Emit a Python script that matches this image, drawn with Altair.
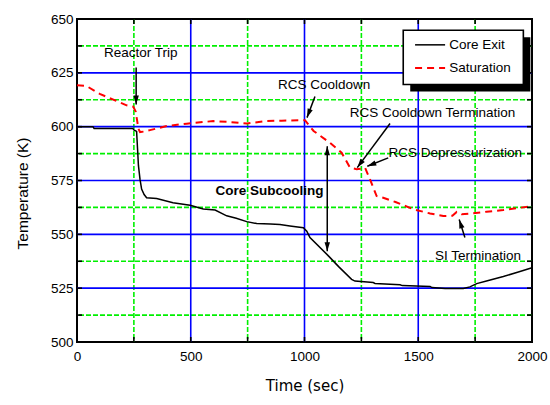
import math
import altair as alt
import pandas as pd

# ---------------- data ----------------
core_t = [0, 70, 75, 245, 250, 262, 266, 270, 277, 284, 295, 306, 350, 422, 497, 555, 607,
          658, 700, 746, 790, 850, 892, 936, 995, 1010, 1024, 1105, 1150, 1207, 1222, 1302,
          1310, 1420, 1430, 1552, 1560, 1618, 1698, 1727, 1757, 1800, 1874, 1940, 2000]
core_T = [600, 600, 599.2, 599.2, 598.5, 597.8, 590, 582, 575.5, 571, 568.5, 567, 566.6, 564.7,
          563.5, 561.8, 561.3, 558.6, 557.5, 555.9, 555, 554.8, 554.6, 553.9, 553.1, 551.5,
          548.5, 540, 535, 529.1, 528.3, 527.6, 527.2, 526.6, 526.2, 525.8, 525.3, 524.8, 524.8,
          525.6, 527.1, 528.3, 530.4, 532.5, 534.5]

sat_t = [0, 40, 100, 174, 218, 247, 258, 264, 270, 277, 300, 321, 394, 482, 599, 680, 746, 834,
         900, 1002, 1040, 1112, 1163, 1200, 1229, 1255, 1266, 1288, 1317, 1346, 1400, 1435, 1479,
         1552, 1610, 1650, 1669, 1691, 1727, 1800, 1874, 2000]
sat_T = [619.2, 619.0, 615.2, 611.9, 609.9, 609.3, 607, 603, 599, 597.5, 597.8, 598.4, 600.3,
         601.4, 602.6, 602.1, 601.5, 602.6, 602.8, 603.0, 598, 592.5, 587.9, 581, 580.2, 580.6,
         581, 575.5, 567.8, 567, 565, 563.5, 561.6, 559.7, 558.5, 558.6, 560.4, 559.3, 559.6,
         560.5, 561.3, 563.1]

x_major = [500, 1000, 1500]
x_minor = [250, 750, 1250, 1750]
y_major = [525, 550, 575, 600, 625]
y_minor = [512.5, 537.5, 562.5, 587.5, 612.5, 637.5]
x_ticks = [250, 500, 750, 1000, 1250, 1500, 1750]
y_ticks = [512.5, 525, 537.5, 550, 562.5, 575, 587.5, 600, 612.5, 625, 637.5]
x_labels = [0, 500, 1000, 1500, 2000]
y_labels = [500, 525, 550, 575, 600, 625, 650]

# annotations: label, text position
ann_text = ["Reactor Trip", "RCS Cooldown", "RCS Cooldown Termination",
            "RCS Depressurization", "SI Termination"]
ann_tx = [280, 1086, 1563, 1663, 1763]
ann_tT = [634.2, 619.5, 606.4, 587.8, 540.0]

# arrows: start -> tip
arr_t1 = [260, 1046, 1376, 1368, 1705, 1100, 1100]
arr_T1 = [627.5, 614.0, 601.5, 585.5, 548.5, 566.0, 566.0]
arr_t2 = [260, 1011, 1232, 1276, 1680, 1100, 1100]
arr_T2 = [610.3, 604.2, 581.0, 581.6, 556.9, 590.9, 542.2]

sub_text = ["Core Subcooling"]
sub_t = [846]
sub_T = [570.0]

legend_names = ["Core Exit", "Saturation"]
legend_T = [638.0, 627.2]
legend_line_t = [1486, 1618]
legend_text_t = 1636
legend_box = [1434, 1962, 619.6, 644.8]

# ---------------- chart ----------------
W, H = 455, 323
XD, YD = [0, 2000], [500, 650]
kx = W / (XD[1] - XD[0])
ky = H / (YD[1] - YD[0])
FONT = "Liberation Sans"

xs = alt.Scale(domain=XD, nice=False, zero=False)
ys = alt.Scale(domain=YD, nice=False, zero=False)

x_axis = alt.Axis(
    values=x_labels, title="Time (sec)", grid=False, ticks=False, tickSize=0,
    domain=False, labelFont=FONT, labelFontSize=13.5, labelColor="black",
    labelPadding=7, labelFlush=False, titleFont="DejaVu Sans", titleFontSize=15,
    titleFontWeight="normal", titleColor="black", titleY=36, format="d")
y_axis = alt.Axis(
    values=y_labels, title="Temperature (K)", grid=False, ticks=False, tickSize=0,
    domain=False, labelFont=FONT, labelFontSize=13.5, labelColor="black",
    labelPadding=4, labelFlush=False, titleFont=FONT, titleFontSize=15.5,
    titleFontWeight="normal", titleColor="black", titleX=-55, titleY=174,
    titleBaseline="middle", format="d")


def X(f="x"):
    return alt.X(f, type="quantitative", scale=xs, axis=x_axis)


def Y(f="y"):
    return alt.Y(f, type="quantitative", scale=ys, axis=y_axis)


GREEN = "#00f000"
BLUE = "#0000ff"

gx_minor = alt.Chart(pd.DataFrame({"x": x_minor})).mark_rule(
    color=GREEN, strokeWidth=1.6, strokeDash=[5, 2]).encode(x=X())
gy_minor = alt.Chart(pd.DataFrame({"y": y_minor})).mark_rule(
    color=GREEN, strokeWidth=1.6, strokeDash=[5, 2]).encode(y=Y())
gx_major = alt.Chart(pd.DataFrame({"x": x_major})).mark_rule(
    color=BLUE, strokeWidth=1.6).encode(x=X())
gy_major = alt.Chart(pd.DataFrame({"y": y_major})).mark_rule(
    color=BLUE, strokeWidth=1.6).encode(y=Y())

sat = alt.Chart(pd.DataFrame({"x": sat_t, "y": sat_T})).mark_line(
    color="#ff0000", strokeWidth=2, strokeDash=[7, 5]).encode(x=X(), y=Y())
core = alt.Chart(pd.DataFrame({"x": core_t, "y": core_T})).mark_line(
    color="black", strokeWidth=1.5).encode(x=X(), y=Y())

# inward ticks on all four sides
TL = 5
xt = pd.DataFrame({"x": x_ticks})
yt = pd.DataFrame({"y": y_ticks})
tick_kw = dict(color="black", strokeWidth=1.6)
ticks = [
    alt.Chart(xt).mark_rule(**tick_kw).encode(x=X(), y=alt.value(H), y2=alt.value(H - TL)),
    alt.Chart(xt).mark_rule(**tick_kw).encode(x=X(), y=alt.value(0), y2=alt.value(TL)),
    alt.Chart(yt).mark_rule(**tick_kw).encode(y=Y(), x=alt.value(0), x2=alt.value(TL)),
    alt.Chart(yt).mark_rule(**tick_kw).encode(y=Y(), x=alt.value(W), x2=alt.value(W - TL)),
]

# annotations
ann = alt.Chart(pd.DataFrame({"x": ann_tx, "y": ann_tT, "t": ann_text})).mark_text(
    font=FONT, fontSize=13.5, color="black", align="center", baseline="middle").encode(
    x=X(), y=Y(), text="t:N")
sub = alt.Chart(pd.DataFrame({"x": sub_t, "y": sub_T, "t": sub_text})).mark_text(
    font=FONT, fontSize=13.5, fontWeight="bold", color="black", align="center",
    baseline="middle").encode(x=X(), y=Y(), text="t:N")

angles = []
for a, b, c, d in zip(arr_t1, arr_T1, arr_t2, arr_T2):
    dx = (c - a) * kx
    dy = -(d - b) * ky
    angles.append(math.degrees(math.atan2(dx, -dy)) % 360)
arr_df = pd.DataFrame({"x": arr_t1, "y": arr_T1, "x2": arr_t2, "y2": arr_T2, "ang": angles})
arr_lines = alt.Chart(arr_df).mark_rule(color="black", strokeWidth=1.5).encode(
    x=X(), y=Y(), x2="x2:Q", y2="y2:Q")
arr_heads = alt.Chart(arr_df).mark_point(
    shape="M0,0L0.3,1L-0.3,1Z", filled=True, color="black", opacity=1, size=324,
    strokeWidth=0).encode(x=X("x2"), y=Y("y2"), angle=alt.Angle("ang:Q", scale=None))

# legend
dxs, dys = 7 / kx, 7 / ky
box = pd.DataFrame({"x": [legend_box[0]], "x2": [legend_box[1]],
                    "y": [legend_box[2]], "y2": [legend_box[3]]})
shadow = pd.DataFrame({"x": [legend_box[0] + dxs], "x2": [legend_box[1] + dxs],
                       "y": [legend_box[2] - dys], "y2": [legend_box[3] - dys]})
leg_shadow = alt.Chart(shadow).mark_rect(color="black").encode(
    x=X(), x2="x2:Q", y=Y(), y2="y2:Q")
leg_box = alt.Chart(box).mark_rect(fill="white", stroke="black", strokeWidth=1.6).encode(
    x=X(), x2="x2:Q", y=Y(), y2="y2:Q")
leg_l1 = alt.Chart(pd.DataFrame({"x": legend_line_t, "y": [legend_T[0]] * 2})).mark_line(
    color="black", strokeWidth=1.5).encode(x=X(), y=Y())
leg_l2 = alt.Chart(pd.DataFrame({"x": legend_line_t, "y": [legend_T[1]] * 2})).mark_line(
    color="#ff0000", strokeWidth=2, strokeDash=[7, 5]).encode(x=X(), y=Y())
leg_txt = alt.Chart(pd.DataFrame({"x": [legend_text_t] * 2, "y": legend_T,
                                  "t": legend_names})).mark_text(
    font=FONT, fontSize=13.5, color="black", align="left", baseline="middle").encode(
    x=X(), y=Y(), text="t:N")

chart = alt.layer(
    gx_minor, gy_minor, gx_major, gy_major, sat, core, *ticks,
    arr_lines, arr_heads, ann, sub,
    leg_shadow, leg_box, leg_l1, leg_l2, leg_txt,
).properties(
    width=W, height=H,
    autosize=alt.AutoSizeParams(type="none"),
    padding={"left": 77, "top": 19, "right": 18, "bottom": 63},
    background="white",
).configure_view(stroke="black", strokeWidth=2)

chart.save("out.html", embed_options={"renderer": "svg", "actions": False})
